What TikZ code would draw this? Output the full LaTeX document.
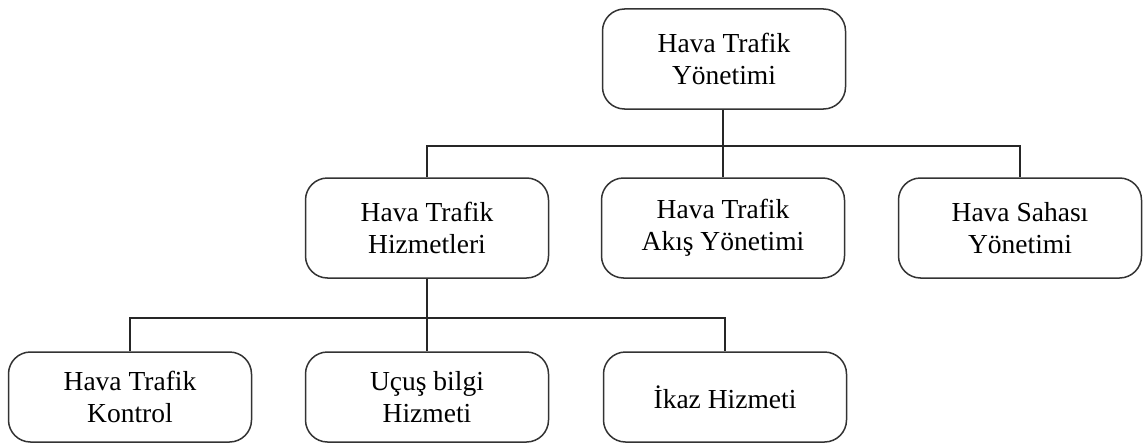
\documentclass[tikz,border=0pt]{standalone}
\usepackage{fontspec}
\setmainfont{Liberation Serif}
\begin{document}
\begin{tikzpicture}[x=1pt,y=-1pt,
  orgbox/.style={draw=black!80, line width=1.5pt, rounded corners=22pt,
    minimum width=243pt, minimum height=100pt, align=center, inner sep=0pt,
    font=\fontsize{27.5}{32}\selectfont},
  lowbox/.style={orgbox, minimum height=90pt},
  link/.style={draw=black!85, line width=1.6pt}]
\useasboundingbox (0,0) rectangle (1147,444);
% top level
\node[orgbox] (top) at (724,59) {Hava Trafik\\Yönetimi};
% second level
\node[orgbox] (hiz)  at (427,228) {Hava Trafik\\Hizmetleri};
\node[orgbox] (akis) at (723,228) {Hava Trafik\\Akış Yönetimi};
\node[orgbox] (saha) at (1020,228) {Hava Sahası\\Yönetimi};
% third level
\node[lowbox] (kontrol) at (130,397) {Hava Trafik\\Kontrol};
\node[lowbox] (ucus)    at (427,397) {Uçuş bilgi\\Hizmeti};
\node[lowbox] (ikaz)    at (725,397) {İkaz Hizmeti};
% bus lines
\coordinate (busA) at (0,146);
\coordinate (busB) at (0,318);
\draw[link] (top.south -| akis.north) -- (akis.north);
\draw[link] (hiz.north) -- (hiz.north |- busA) -| (saha.north);
\draw[link] (hiz.south) -- (ucus.north);
\draw[link] (kontrol.north) -- (kontrol.north |- busB) -| (ikaz.north);
\end{tikzpicture}
\end{document}
